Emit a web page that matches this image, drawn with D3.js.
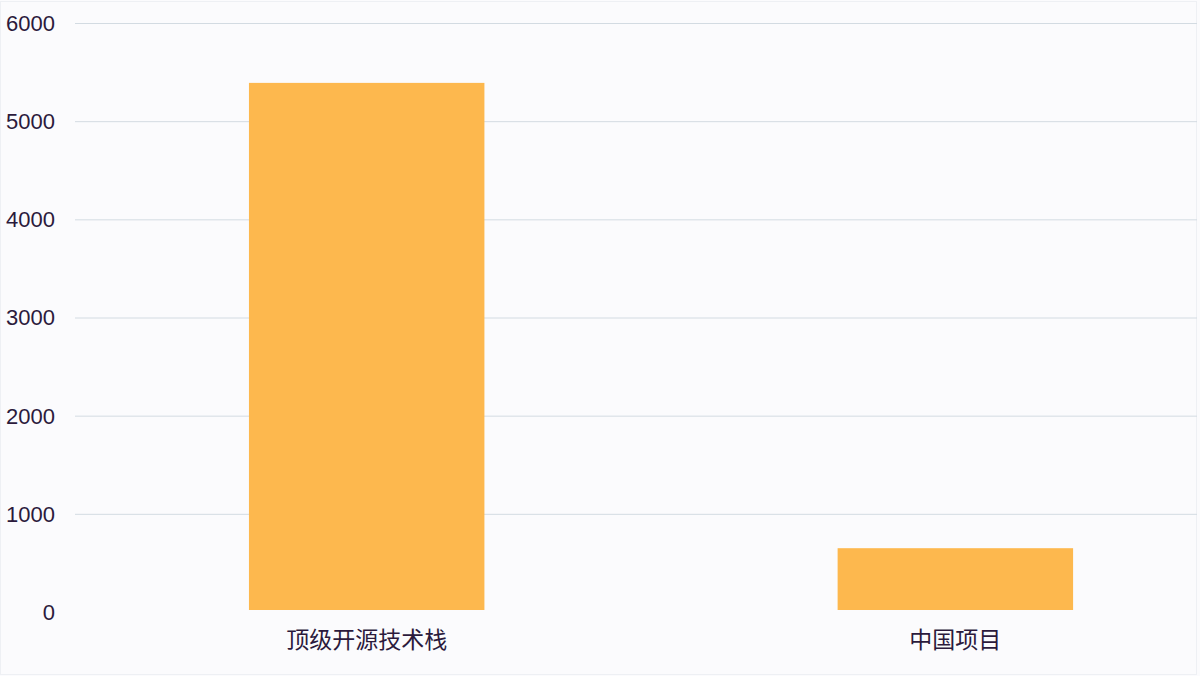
<!DOCTYPE html>
<html>
<head>
<meta charset="utf-8">
<script src="https://cdn.jsdelivr.net/npm/d3@7"></script>
<style>
  html, body { margin: 0; padding: 0; background: #fbfbfd; }
  svg { display: block; }
</style>
</head>
<body>
<svg id="chart" width="1200" height="676"></svg>
<script>
// data
const categories = ['顶级开源技术栈', '中国项目']
const values = [5390, 650]
const yTicks = [0, 1000, 2000, 3000, 4000, 5000, 6000]

const W = 1200
const H = 676
const margin = { top: 23, right: 3, bottom: 64, left: 75 }

const svg = d3.select('#chart')

// faint frame round the picture
svg.append('rect')
  .attr('x', 0.5).attr('y', 1.5)
  .attr('width', W - 4).attr('height', H - 3)
  .attr('fill', '#fbfbfd')
  .attr('stroke', '#eef0f4')

const x = d3.scaleBand()
  .domain(categories)
  .range([margin.left, W - margin.right])
  .paddingInner(0.6)
  .paddingOuter(0.253)
  .align(0.584)

const y = d3.scaleLinear()
  .domain([0, 6000])
  .range([H - margin.bottom, margin.top])

// gridlines (no line at zero)
const yAxis = d3.axisLeft(y)
  .tickValues(yTicks)
  .tickSize(-(W - margin.right - margin.left))
  .tickPadding(20)
  .tickFormat(d3.format('d'))

const gy = svg.append('g')
  .attr('transform', `translate(${margin.left},0)`)
  .call(yAxis)
gy.select('.domain').remove()
gy.selectAll('.tick line')
  .attr('stroke', '#d3dbe2')
  .attr('stroke-width', 1)
  .attr('display', (d) => (d === 0 ? 'none' : null))
gy.selectAll('.tick text')
  .attr('fill', '#2b1a3c')
  .attr('font-family', 'Liberation Sans, Arial, sans-serif')
  .attr('font-size', 22)
  .attr('dy', '0.34em')

svg.append('g')
  .selectAll('rect')
  .data(categories)
  .join('rect')
  .attr('x', (d) => x(d))
  .attr('width', x.bandwidth())
  .attr('y', (d, i) => y(values[i]))
  .attr('height', (d, i) => y(0) - 2 - y(values[i]))
  .attr('fill', '#fdb84e')

const xAxis = d3.axisBottom(x).tickSize(0).tickPadding(20)
const gx = svg.append('g')
  .attr('transform', `translate(0,${y(0)})`)
  .call(xAxis)
gx.select('.domain').remove()
gx.selectAll('.tick text')
  .attr('fill', '#2b1a3c')
  .attr('font-family', 'Noto Sans CJK SC, sans-serif')
  .attr('font-size', 23)
</script>
</body>
</html>
